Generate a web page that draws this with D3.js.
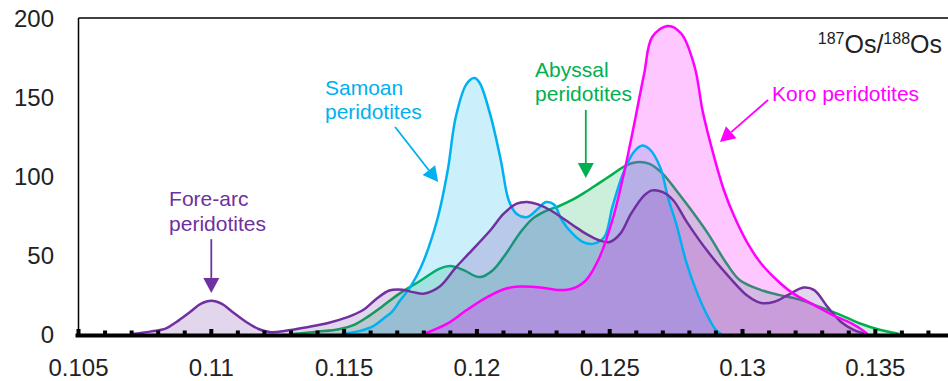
<!DOCTYPE html>
<html>
<head>
<meta charset="utf-8">
<script src="https://cdn.jsdelivr.net/npm/d3@7/dist/d3.min.js"></script>
<style>
  html, body { margin: 0; padding: 0; background: #fff; }
  svg { display: block; font-family: Arial, "Liberation Sans", sans-serif; }
</style>
</head>
<body>
<svg id="chart" width="948" height="381"></svg>
<script>
// Kernel density estimates of 187Os/188Os for four peridotite suites.
const xTicks = [0.105, 0.11, 0.115, 0.12, 0.125, 0.13, 0.135];
const xTickLabels = ["0.105", "0.11", "0.115", "0.12", "0.125", "0.13", "0.135"];
const yTicks = [0, 50, 100, 150, 200];
const yTickLabels = ["0", "50", "100", "150", "200"];

const abyssalX = [0.1130, 0.1140, 0.1148, 0.1154, 0.1159, 0.1164, 0.1171, 0.1179, 0.1186, 0.1190, 0.1195, 0.1201, 0.1206, 0.1211, 0.1216, 0.1221, 0.1226, 0.1231, 0.1236, 0.1241, 0.1246, 0.1251, 0.1256, 0.1260, 0.1265, 0.1270, 0.1275, 0.1280, 0.1287, 0.1294, 0.1299, 0.1307, 0.1314, 0.1322, 0.1329, 0.1337, 0.1344, 0.1352, 0.1359];
const abyssalY = [0, 1.5, 3, 6, 11, 17, 25.7, 34, 41.4, 43, 40.4, 36, 40.4, 51, 63.5, 73, 78, 81, 85, 90, 95.5, 101, 106.5, 108.7, 107.7, 101.4, 91, 80, 63.5, 44.6, 34, 27.8, 24.6, 21.5, 17.2, 12, 6.8, 2.5, 0];

const samoanX = [0.1149, 0.1156, 0.1161, 0.1165, 0.1168, 0.1171, 0.1175, 0.1179, 0.1185, 0.1189, 0.1192, 0.1196, 0.1199, 0.1201, 0.1205, 0.1209, 0.1212, 0.1215, 0.1219, 0.1223, 0.1226, 0.1229, 0.1232, 0.1236, 0.1240, 0.1244, 0.1248, 0.1251, 0.1255, 0.1259, 0.1262, 0.1265, 0.1269, 0.1272, 0.1275, 0.1279, 0.1283, 0.1287, 0.1290, 0.1292];
const samoanY = [0, 2, 5, 10, 14, 21, 30, 42.5, 72, 103.5, 137, 158, 162, 159, 139, 110, 84.5, 76, 74, 79.3, 83.5, 82, 72, 63.5, 58.2, 57.2, 61.4, 80.3, 101.4, 115, 119.2, 117, 105.5, 86, 70, 44.6, 25.7, 10.9, 2.5, 0];

const foreArcX = [0.1070, 0.1077, 0.1083, 0.1087, 0.1092, 0.1096, 0.1100, 0.1104, 0.1108, 0.1113, 0.1118, 0.1122, 0.1128, 0.1136, 0.1144, 0.1151, 0.1157, 0.1162, 0.1167, 0.1172, 0.1176, 0.1180, 0.1186, 0.1192, 0.1197, 0.1205, 0.1210, 0.1215, 0.1219, 0.1223, 0.1228, 0.1236, 0.1241, 0.1246, 0.1250, 0.1254, 0.1258, 0.1263, 0.1266, 0.1270, 0.1274, 0.1279, 0.1287, 0.1295, 0.1302, 0.1307, 0.1312, 0.1317, 0.1323, 0.1327, 0.1332, 0.1337, 0.1342, 0.1347];
const foreArcY = [0, 1.5, 3.6, 7.8, 14, 19, 21, 19, 14, 7.8, 3, 1.2, 2, 4.3, 7, 10.5, 15, 22, 27.5, 28, 26.5, 25.5, 30, 42, 51, 65.5, 76, 82.5, 83.5, 82, 78, 69, 63.5, 59.3, 58.2, 63.5, 76, 87.7, 90.9, 89.8, 84.5, 71, 52, 36, 24, 19.6, 20.4, 24.6, 29.4, 27.8, 17.2, 7.8, 2.5, 0];

const koroX = [0.1180, 0.1189, 0.1196, 0.1204, 0.1211, 0.1216, 0.1224, 0.1231, 0.1236, 0.1241, 0.1246, 0.1251, 0.1255, 0.1259, 0.1263, 0.1266, 0.1272, 0.1277, 0.1282, 0.1285, 0.1289, 0.1293, 0.1297, 0.1302, 0.1307, 0.1313, 0.1319, 0.1327, 0.1334, 0.1341, 0.1346, 0.1347];
const koroY = [0, 6.7, 15, 23.5, 28.8, 30, 29.5, 27.8, 28.8, 34, 48, 72, 99, 131, 165, 188, 195, 190, 169, 141, 114, 91, 74, 57.2, 44.6, 34, 25.7, 18.3, 12, 6.7, 1.5, 0];

const seriesNames = ["Abyssal", "Samoan", "Fore-arc", "Koro"];
const seriesX = [abyssalX, samoanX, foreArcX, koroX];
const seriesY = [abyssalY, samoanY, foreArcY, koroY];
const lineColors = ["#00B050", "#00B0F0", "#7030A0", "#FF00FF"];
const fillColors = ["rgba(0,176,80,0.2)", "rgba(0,176,240,0.2)", "rgba(112,48,160,0.2)", "rgba(255,0,255,0.22)"];

// Annotation labels and arrows, placed in data units
const noteLines = [["Fore-arc", "peridotites"], ["Samoan", "peridotites"], ["Abyssal", "peridotites"], ["Koro peridotites"]];
const noteColors = ["#7030A0", "#00B0F0", "#00B050", "#FF00FF"];
const noteX = [0.10841, 0.11428, 0.12219, 0.13111];
const noteY = [80.7, 151.3, 162.7, 147.5];
const arrowFrom = [[0.1100, 60], [0.11692, 131], [0.12410, 141.8], [0.13096, 148.1]];
const arrowTo = [[0.1100, 26], [0.11854, 96.2], [0.12410, 98.7], [0.12915, 121.5]];

const svg = d3.select("#chart");
const x = d3.scaleLinear().domain([0.105, 0.138]).range([78.5, 955]);
const y = d3.scaleLinear().domain([0, 200]).range([334, 18]);

svg.append("defs").append("clipPath").attr("id", "plotClip")
  .append("rect").attr("x", x(0.105)).attr("y", 0)
  .attr("width", 948 - x(0.105)).attr("height", y(0));

const curve = d3.curveCatmullRom.alpha(0.5);
const area = d3.area().curve(curve)
  .x(d => x(d[0])).y0(y(0)).y1(d => y(d[1]));
const line = d3.line().curve(curve)
  .x(d => x(d[0])).y(d => y(d[1]));

const plot = svg.append("g").attr("clip-path", "url(#plotClip)");
const pointSets = seriesNames.map((name, i) => seriesX[i].map((v, j) => [v, seriesY[i][j]]));

// Abyssal outline sits beneath the other fills; the rest are stroked on top.
seriesNames.forEach((name, i) => {
  plot.append("path").attr("class", "area " + name)
    .attr("d", area(pointSets[i])).attr("fill", fillColors[i]);
  if (i === 0) {
    plot.append("path").attr("class", "line " + name)
      .attr("d", line(pointSets[i])).attr("fill", "none")
      .attr("stroke", lineColors[i]).attr("stroke-width", 2.5);
  }
});
seriesNames.forEach((name, i) => {
  if (i === 0) return;
  plot.append("path").attr("class", "line " + name)
    .attr("d", line(pointSets[i])).attr("fill", "none")
    .attr("stroke", lineColors[i]).attr("stroke-width", 2.5);
});

// Frame: left and top rules, heavy baseline with square ticks
svg.append("line").attr("x1", x(0.105)).attr("x2", x(0.105))
  .attr("y1", y(200)).attr("y2", y(0)).attr("stroke", "#000").attr("stroke-width", 1.5);
svg.append("line").attr("x1", x(0.105)).attr("x2", 948)
  .attr("y1", y(200)).attr("y2", y(200)).attr("stroke", "#000").attr("stroke-width", 1.5);
svg.append("line").attr("x1", x(0.105) - 3).attr("x2", 948)
  .attr("y1", y(0) + 1.5).attr("y2", y(0) + 1.5).attr("stroke", "#000").attr("stroke-width", 4);

const minorTicks = d3.range(0, 34).map(k => 0.105 + k * 0.001);
svg.append("g").selectAll("rect").data(minorTicks).join("rect")
  .attr("x", d => x(d) - 2)
  .attr("y", (d, k) => y(0) - (k % 5 === 0 ? 5 : 3.5))
  .attr("width", 4)
  .attr("height", (d, k) => (k % 5 === 0 ? 5 : 3.5))
  .attr("fill", "#000");

// Axis labels
svg.append("g").selectAll("text").data(xTicks).join("text")
  .attr("x", d => x(d)).attr("y", 375.5)
  .attr("text-anchor", "middle").attr("font-size", 24).attr("fill", "#222")
  .text((d, i) => xTickLabels[i]);
svg.append("g").selectAll("text").data(yTicks).join("text")
  .attr("x", 54).attr("y", d => y(d) + 8.5)
  .attr("text-anchor", "end").attr("font-size", 24).attr("fill", "#222")
  .text((d, i) => yTickLabels[i]);

// Isotope ratio title
const title = svg.append("text").attr("x", 942).attr("y", 53)
  .attr("text-anchor", "end").attr("fill", "#222").attr("font-size", 25);
title.append("tspan").attr("font-size", 16).attr("dy", -9).text("187");
title.append("tspan").attr("dy", 9).text("Os/");
title.append("tspan").attr("font-size", 16).attr("dy", -9).text("188");
title.append("tspan").attr("dy", 9).text("Os");

// Callouts
noteLines.forEach((lines, i) => {
  const t = svg.append("text").attr("x", x(noteX[i])).attr("y", y(noteY[i]))
    .attr("font-size", 21).attr("fill", noteColors[i]);
  lines.forEach((s, k) => {
    t.append("tspan").attr("x", x(noteX[i])).attr("dy", k === 0 ? 0 : 24.5).text(s);
  });
  const x1 = x(arrowFrom[i][0]), y1 = y(arrowFrom[i][1]);
  const x2 = x(arrowTo[i][0]), y2 = y(arrowTo[i][1]);
  const ang = Math.atan2(y2 - y1, x2 - x1);
  const headLen = 15, headHalf = 8;
  const bx = x2 - headLen * Math.cos(ang), by = y2 - headLen * Math.sin(ang);
  svg.append("line").attr("x1", x1).attr("y1", y1).attr("x2", bx).attr("y2", by)
    .attr("stroke", noteColors[i]).attr("stroke-width", 1.8);
  const px = -Math.sin(ang) * headHalf, py = Math.cos(ang) * headHalf;
  svg.append("path")
    .attr("d", `M${x2},${y2}L${bx + px},${by + py}L${bx - px},${by - py}Z`)
    .attr("fill", noteColors[i]);
});
</script>
</body>
</html>
